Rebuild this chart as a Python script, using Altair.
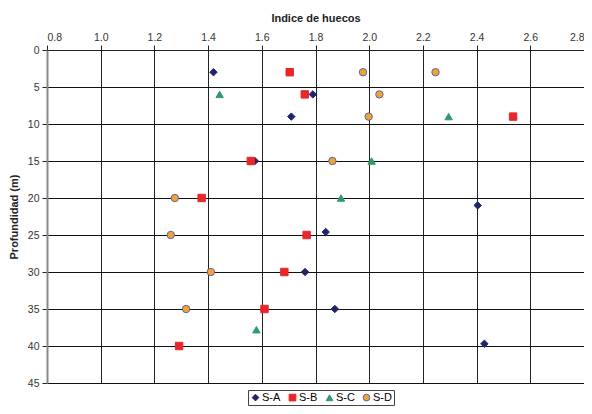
import altair as alt
import pandas as pd

series_names = ["S-A", "S-B", "S-C", "S-D"]

sa_x = [1.42, 1.79, 1.71, 1.574, 2.404, 1.838, 1.761, 1.872, 2.429]
sa_y = [3.0, 6.0, 9.0, 15.0, 21.0, 24.6, 30.0, 35.0, 39.7]

sb_x = [1.704, 1.760, 2.536, 1.559, 1.376, 1.767, 1.684, 1.610, 1.292]
sb_y = [3.0, 6.0, 9.0, 15.0, 20.0, 25.0, 30.0, 35.0, 40.0]

sc_x = [1.443, 2.296, 2.009, 1.895, 1.580]
sc_y = [6.0, 9.0, 15.0, 20.0, 37.8]

sd_x = [1.977, 2.247, 2.038, 1.998, 1.863, 1.276, 1.261, 1.410, 1.318]
sd_y = [3.0, 3.0, 6.0, 9.0, 15.0, 20.0, 25.0, 30.0, 35.0]

x_ticks = [0.8, 1.0, 1.2, 1.4, 1.6, 1.8, 2.0, 2.2, 2.4, 2.6, 2.8]
y_ticks = [0, 5, 10, 15, 20, 25, 30, 35, 40, 45]

rows = []
for name, xs, ys in zip(series_names, [sa_x, sb_x, sc_x, sd_x], [sa_y, sb_y, sc_y, sd_y]):
    for xv, yv in zip(xs, ys):
        rows.append({"serie": name, "indice": xv, "prof": yv})
df = pd.DataFrame(rows)

fills = ["#22236b", "#e8262b", "#2f9a6a", "#f5a231"]
strokes = ["#22236b", "#e8262b", "#2f9a6a", "#5366a8"]
shapes = ["diamond", "square", "triangle-up", "circle"]

legend_cfg = alt.Legend(
    title=None, orient="none", direction="horizontal", legendX=201, legendY=340,
    strokeColor="#444", padding=2, symbolSize=45, labelFont="Liberation Sans",
    labelFontSize=11, labelColor="#000", columnPadding=6, symbolStrokeWidth=1,
    labelOffset=1, cornerRadius=0,
)

chart = alt.Chart(df).mark_point(filled=True, size=55, opacity=1, strokeWidth=1).encode(
    x=alt.X("indice:Q",
            scale=alt.Scale(domain=[0.8, 2.8], nice=False, zero=False),
            axis=alt.Axis(orient="top", values=x_ticks, format=".1f", title="Indice de huecos",
                          titleFontWeight="bold", titleFontSize=11, titleFont="Liberation Sans",
                          titleColor="#222", titlePadding=9,
                          labelFont="Liberation Sans", labelFontSize=10.5, labelColor="#333",
                          tickColor="#222", tickSize=5, domainColor="#222",
                          gridColor="#222", gridWidth=1, labelPadding=3)),
    y=alt.Y("prof:Q",
            scale=alt.Scale(domain=[0, 45], reverse=True, nice=False, zero=False),
            axis=alt.Axis(values=y_ticks, title="Profundidad (m)",
                          titleFontWeight="bold", titleFontSize=11, titleFont="Liberation Sans",
                          titleColor="#222", titlePadding=8,
                          labelFont="Liberation Sans", labelFontSize=10.5, labelColor="#333",
                          tickColor="#222", tickSize=5, domainColor="#888", domainWidth=2,
                          gridColor="#111", gridWidth=1, labelPadding=3)),
    fill=alt.Fill("serie:N", scale=alt.Scale(domain=series_names, range=fills), legend=legend_cfg),
    stroke=alt.Stroke("serie:N", scale=alt.Scale(domain=series_names, range=strokes), legend=legend_cfg),
    shape=alt.Shape("serie:N", scale=alt.Scale(domain=series_names, range=shapes), legend=legend_cfg),
).properties(
    width=537, height=333,
    autosize=alt.AutoSizeParams(type="none"),
    padding={"left": 39, "top": 42, "right": 0, "bottom": 23},
).configure_view(
    stroke="#999", strokeWidth=1.5
).configure(background="white")

chart.save("out.html", embed_options={"renderer": "svg", "actions": False})
